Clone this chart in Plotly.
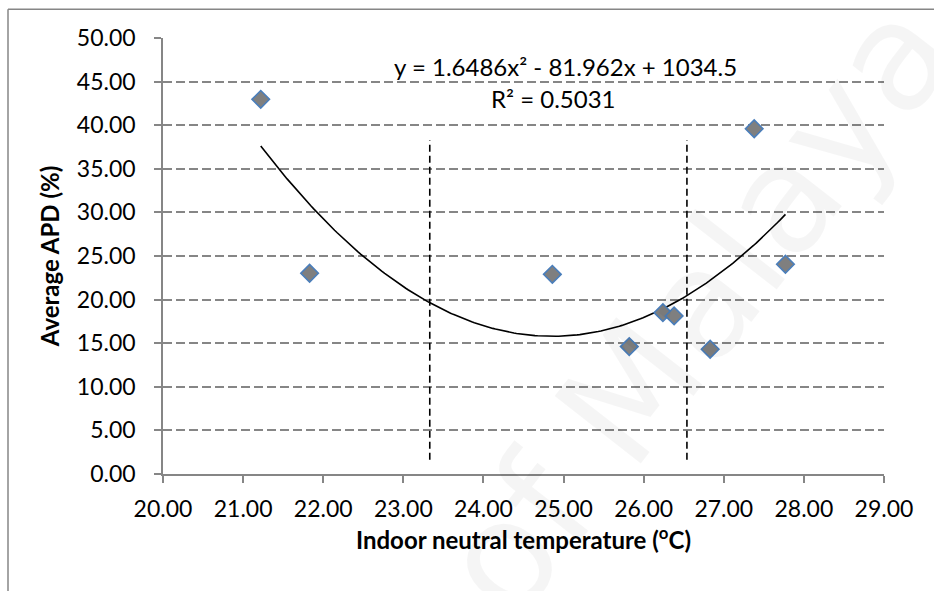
import numpy as np
import plotly.graph_objects as go

# Data
temp_c = [21.22, 21.83, 24.86, 25.82, 26.24, 26.38, 26.83, 27.38, 27.77]
apd_pct = [42.97, 23.02, 22.90, 14.61, 18.50, 18.13, 14.31, 39.59, 24.05]

# Displayed polynomial trendline coefficients (y = a x^2 + b x + c)
trend_coef = [1.6486, -81.962, 1034.5]
r_squared = 0.5031

# Vertical reference (dashed) lines
ref_x = [23.33, 26.54]
ref_y = [1.64, 38.28]

x_ticks = [20, 21, 22, 23, 24, 25, 26, 27, 28, 29]
y_ticks = [0, 5, 10, 15, 20, 25, 30, 35, 40, 45, 50]

FONT = "Lato"
GRID = "#868686"

fig = go.Figure()

# Trendline across the data range
tx = np.linspace(min(temp_c), max(temp_c), 200)
ty = np.polyval(trend_coef, tx)
fig.add_trace(go.Scatter(x=tx, y=ty, mode="lines",
                         line=dict(color="black", width=1.6),
                         hoverinfo="skip", showlegend=False))

# Vertical dashed lines
for xv in ref_x:
    fig.add_trace(go.Scatter(x=[xv, xv], y=ref_y, mode="lines",
                             line=dict(color="black", width=1.6, dash="7px,4px"),
                             hoverinfo="skip", showlegend=False))

# Data points
fig.add_trace(go.Scatter(x=temp_c, y=apd_pct, mode="markers",
                         marker=dict(symbol="diamond", size=13.5, color="#7f7f7f",
                                     line=dict(color="#4a7ebb", width=1.6)),
                         showlegend=False))

a, b, c = trend_coef
eq1 = f"y = {a}x² - {abs(b)}x + {c}"
eq2 = f"R² = {r_squared}"

annotations = [
    dict(x=25.03, y=46.75, xref="x", yref="y", text=eq1, showarrow=False,
         font=dict(family=FONT, size=24, color="black"), xanchor="center", yanchor="middle"),
    dict(x=24.88, y=43.09, xref="x", yref="y", text=eq2, showarrow=False,
         font=dict(family=FONT, size=24, color="black"), xanchor="center", yanchor="middle"),
    # faint watermark
    dict(x=0.74, y=0.38, xref="paper", yref="paper", text="of Malaya", showarrow=False,
         textangle=-52, font=dict(family="DejaVu Sans", size=150, color="rgba(0,0,0,0.04)"),
         xanchor="center", yanchor="middle"),
]

fig.update_layout(
    width=934, height=591,
    margin=dict(l=163, r=50, t=38, b=117),
    paper_bgcolor="white", plot_bgcolor="white",
    font=dict(family=FONT, size=22, color="black"),
    annotations=annotations,
    shapes=[
        dict(type="line", xref="paper", yref="paper",
             x0=(8 - 163) / 721, x1=(8 - 163) / 721, y0=-2, y1=(474.3 - 9) / 436.6,
             line=dict(color=GRID, width=1.5), layer="below"),
        dict(type="line", xref="paper", yref="paper",
             x0=(8 - 163) / 721, x1=2, y0=(474.3 - 9) / 436.6, y1=(474.3 - 9) / 436.6,
             line=dict(color=GRID, width=1.5), layer="below"),
    ],
)

fig.update_xaxes(
    range=[20, 29], tickvals=x_ticks, ticktext=[f"{v:.2f}" for v in x_ticks],
    tickfont=dict(family=FONT, size=23, color="black"),
    showgrid=False, zeroline=False, showline=True, linecolor=GRID, linewidth=1.5,
    ticks="outside", ticklen=7, tickcolor=GRID, tickwidth=1.5,
    ticklabelstandoff=7,
    title=dict(text="<b>Indoor neutral temperature (<sup>o</sup>C)</b>",
               font=dict(family=FONT, size=24), standoff=0),
)
fig.update_yaxes(
    range=[0, 50], tickvals=y_ticks, ticktext=[f"{v:.2f}" for v in y_ticks],
    tickfont=dict(family=FONT, size=23, color="black"),
    showgrid=True, gridcolor=GRID, gridwidth=1.5, griddash="9px,4px",
    zeroline=False, showline=True, linecolor=GRID, linewidth=1.5,
    ticks="outside", ticklen=7, tickcolor=GRID, tickwidth=1.5,
    ticklabelstandoff=14,
    title=dict(text="<b>Average APD (%)</b>", font=dict(family=FONT, size=24), standoff=10),
)

fig.write_html("out.html")
